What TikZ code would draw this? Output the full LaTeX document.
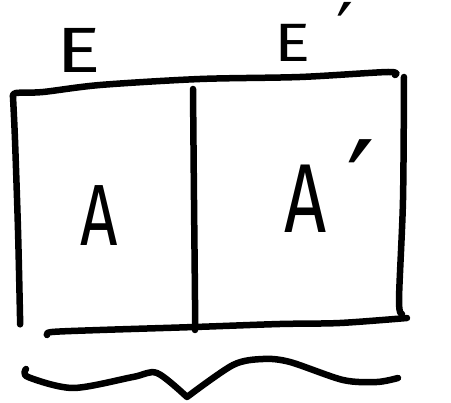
\documentclass[tikz,border=0pt]{standalone}
\usepackage{fontspec}
\setmainfont{Fira Sans}
\newfontfamily\primefont{DejaVu Sans}
\newcommand{\pr}{{\primefont ′}}
\begin{document}
\begin{tikzpicture}[x=1pt,y=-1pt,
  stroke/.style={line width=6.5pt,line cap=round,line join=round},
  letter/.style={inner sep=0pt,anchor=center}]
\useasboundingbox (0,0) rectangle (451,403);
% corners
\coordinate (tl) at (13,97);
\coordinate (tr) at (395,75);
\coordinate (bl) at (20,323);
\coordinate (rt) at (404,77);
\coordinate (rb) at (402,314);
\coordinate (mt) at (193,89);
\coordinate (mb) at (195,330);
\coordinate (bs) at (47,335);
\coordinate (be) at (407,318);
\coordinate (cs) at (26,369);
\coordinate (tip) at (187,397);
\coordinate (ce) at (398,378);
% top line
\draw[stroke] plot[smooth] coordinates {(tl) (16,93) (43,92) (100,85) (200,79) (300,77) (388,72) (tr)};
% left edge
\draw[stroke] plot[smooth] coordinates {(tl) (15,140) (18,230) (20,316) (bl)};
% divider
\draw[stroke] plot[smooth] coordinates {(mt) (194,200) (195,300) (mb)};
% right edge
\draw[stroke] plot[smooth] coordinates {(rt) (403,200) (399,300) (rb)};
% bottom line
\draw[stroke] plot[smooth] coordinates {(bs) (52,332) (100,330) (195,327) (280,324) (340,323) (be)};
% brace
\draw[stroke] plot[smooth,tension=0.5] coordinates {(cs) (28,377) (73,388) (133,377) (157,373) (tip)}
  plot[smooth,tension=0.5] coordinates {(tip) (233,365) (263,359) (290,362) (343,380) (377,382) (ce)};
% labels
\node[letter,font=\fontsize{64}{64}\selectfont] (E) at (79,50) {\scalebox{1.3}[1]{E}};
\node[letter,font=\fontsize{54}{54}\selectfont,anchor=base west] (Ep) at (274,62) {\scalebox{1.25}[1]{E}\hspace{26pt}\raisebox{4pt}{\scalebox{1.4}{\pr}}};
\node[letter,font=\fontsize{87}{87}\selectfont] (A) at (99,216) {\scalebox{0.75}[1]{A}};
\node[letter,font=\fontsize{98}{98}\selectfont,anchor=base west] (Ap) at (284,233) {\scalebox{0.75}[1]{A}\hspace{20pt}\scalebox{1.3}{\pr}};
\end{tikzpicture}
\end{document}
